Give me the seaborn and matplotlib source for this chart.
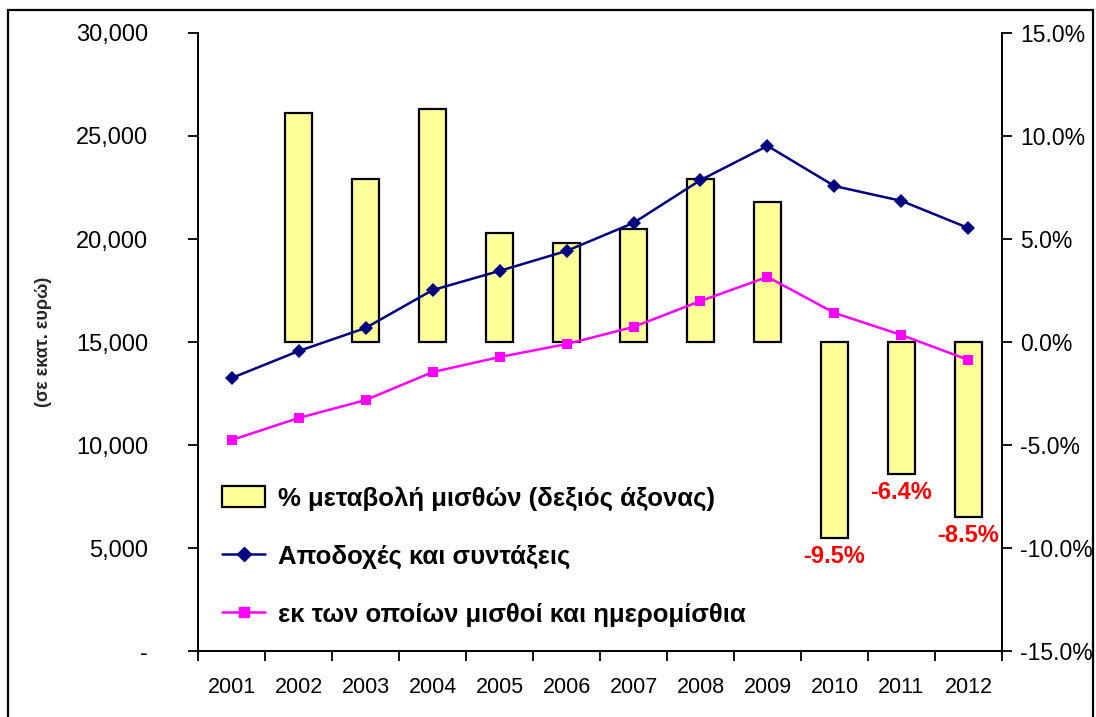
import pandas as pd
import matplotlib
matplotlib.use("Agg")
import matplotlib.pyplot as plt
import seaborn as sns
from matplotlib.patches import Patch, Rectangle
from matplotlib.lines import Line2D
from matplotlib.ticker import FuncFormatter

# Data
years = ['2001', '2002', '2003', '2004', '2005', '2006',
         '2007', '2008', '2009', '2010', '2011', '2012']
pct_change = [None, 11.1, 7.9, 11.3, 5.3, 4.8, 5.5, 7.9, 6.8, -9.5, -6.4, -8.5]
total_pay = [13250, 14560, 15680, 17520, 18450, 19420,
             20780, 22860, 24520, 22570, 21850, 20530]
wages = [10240, 11310, 12180, 13540, 14270, 14900,
         15730, 16990, 18160, 16410, 15340, 14130]
labelled = {'2010': '-9.5%', '2011': '-6.4%', '2012': '-8.5%'}

bar_lbl = '% μεταβολή μισθών (δεξιός άξονας)'
line1_lbl = 'Αποδοχές και συντάξεις'
line2_lbl = 'εκ των οποίων μισθοί και ημερομίσθια'

sns.set_theme(style='white')
plt.rcParams['font.family'] = ['Liberation Sans', 'DejaVu Sans']
plt.rcParams['text.color'] = 'black'

df = pd.DataFrame({'Year': years, 'Pct': pct_change,
                   'Total': total_pay, 'Wages': wages})

fig = plt.figure(figsize=(10.96, 7.17), dpi=100)
ax = fig.add_axes([0.1807, 0.092, 0.7335, 0.862])

# bars on the base axes, shown with the right-hand scale
sns.barplot(data=df.fillna(0), x='Year', y='Pct', ax=ax, order=years,
            color='#FFFF99', edgecolor='black', linewidth=1.6,
            width=0.41, saturation=1)
# hide the empty bar of 2001
ax.patches[0].set_visible(False)
ax.set_ylim(-15, 15)
ax.set_xlim(-0.5, 11.5)
ax.set_xlabel('')
ax.set_ylabel('')

for i, y in enumerate(years):
    if y in labelled:
        v = df.loc[i, 'Pct']
        ax.text(i, v - 0.35, labelled[y], ha='center', va='top',
                color='#FF0000', fontsize=17, fontweight='bold')

# lines on a twin axes, shown with the left-hand scale
ax2 = ax.twinx()
sns.lineplot(data=df, x='Year', y='Total', ax=ax2, color='#000080',
             marker='D', markersize=7.5, linewidth=1.8, markeredgewidth=0)
sns.lineplot(data=df, x='Year', y='Wages', ax=ax2, color='#FF00FF',
             marker='s', markersize=7.5, linewidth=1.8, markeredgewidth=0)
ax2.set_ylim(0, 30000)
ax2.set_xlim(-0.5, 11.5)
ax2.set_xlabel('')

# swap sides: percentages on the right, euros on the left
ax.yaxis.tick_right()
ax.yaxis.set_label_position('right')
ax.set_yticks([-15, -10, -5, 0, 5, 10, 15])
ax.yaxis.set_major_formatter(FuncFormatter(lambda v, p: f'{v:.1f}%'))

ax2.yaxis.tick_left()
ax2.yaxis.set_label_position('left')
ax2.set_yticks(range(0, 30001, 5000))
ax2.yaxis.set_major_formatter(FuncFormatter(lambda v, p: '-' if v == 0 else f'{v:,.0f}'))
ax2.set_ylabel('(σε εκατ. ευρώ)', fontsize=13, fontweight='bold')
ax2.yaxis.set_label_coords(-0.182, 0.5)

for a in (ax, ax2):
    a.spines['top'].set_visible(False)
    for s in ('left', 'right', 'bottom'):
        a.spines[s].set_color('black')
        a.spines[s].set_linewidth(1.3)
    a.tick_params(axis='y', length=7, width=1.3, direction='out',
                  colors='black', labelcolor='black')
    a.grid(False)

ax.tick_params(axis='y', labelsize=16.5, pad=6)
ax2.tick_params(axis='y', labelsize=17, pad=29)

# x ticks: boundary marks, labels centred
ax.set_xticks([i - 0.5 for i in range(13)])
ax.set_xticklabels([])
ax.set_xticks(range(12), minor=True)
ax.set_xticklabels(years, minor=True)
ax.tick_params(axis='x', which='major', length=7, width=1.3, direction='out',
               bottom=True, colors='black')
ax.tick_params(axis='x', which='minor', length=0, labelsize=15.5, pad=19,
               bottom=True, labelcolor='black')
ax2.tick_params(axis='x', which='both', bottom=False, labelbottom=False)

handles = [Patch(facecolor='#FFFF99', edgecolor='black', linewidth=1.6),
           Line2D([], [], color='#000080', marker='D', markersize=7.5, linewidth=1.8),
           Line2D([], [], color='#FF00FF', marker='s', markersize=7.5, linewidth=1.8)]
leg = ax2.legend(handles, [bar_lbl, line1_lbl, line2_lbl], loc='lower left',
                 bbox_to_anchor=(0.0, 0.0), frameon=False,
                 prop={'size': 18.5, 'weight': 'bold'}, handlelength=1.65,
                 handleheight=0.9, labelspacing=1.3, handletextpad=0.5,
                 borderaxespad=0.55)
for t in leg.get_texts():
    t.set_color('black')

# frame around the whole chart
fig.patches.append(Rectangle((8 / 1096, -0.01), 1085 / 1096, 1 - 10 / 717 + 0.01,
                             transform=fig.transFigure, fill=False,
                             edgecolor='black', linewidth=1.6))

fig.savefig('out.png', dpi=100)
